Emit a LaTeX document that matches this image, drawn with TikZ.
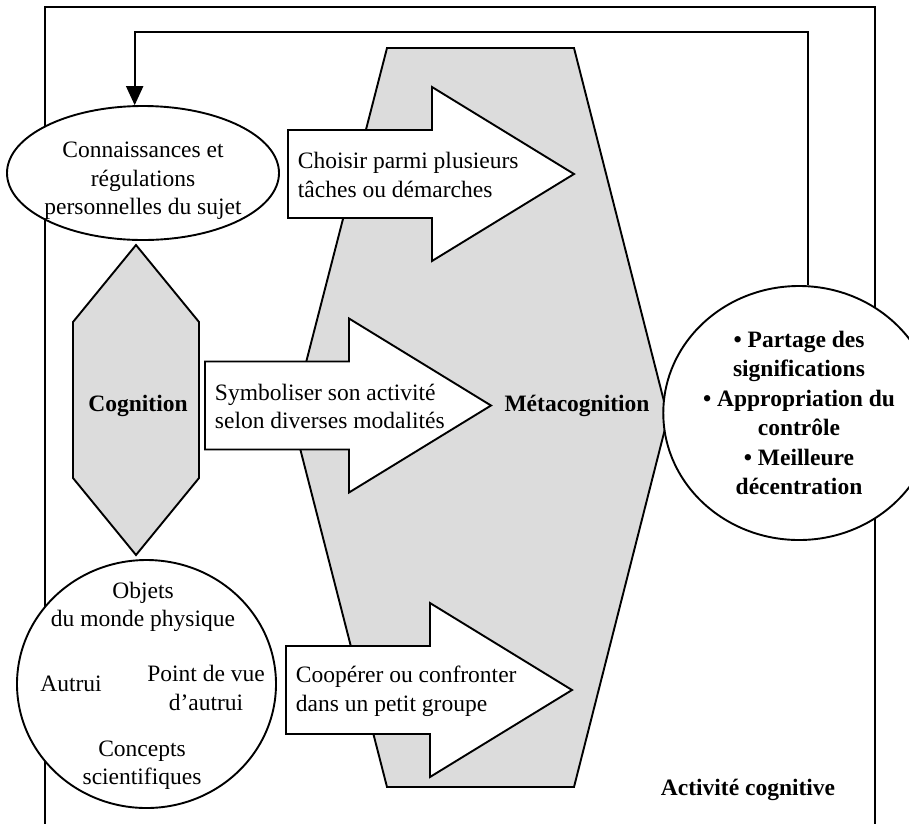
\documentclass[tikz,border=0pt]{standalone}
\usepackage{fontspec}
\setmainfont{Liberation Serif}
\usetikzlibrary{shapes.geometric,arrows.meta,calc,positioning}
\definecolor{metagrey}{RGB}{220,220,220}

\begin{document}
\begin{tikzpicture}[x=1pt,y=-1pt,>={Triangle[length=19pt,width=17pt]},
  line width=1.9pt,
  every node/.style={font=\fontsize{23.5}{28.5}\selectfont,inner sep=0pt},
  shaded/.style={draw,fill=metagrey},
  blockarrow/.style={draw,fill=white},
  bubble/.style={draw,fill=white,ellipse,inner sep=0pt},
  heading/.style={font=\fontsize{23.5}{29.5}\selectfont\bfseries,align=center}]
  \clip (0,0) rectangle (909,823);
  % cadre
  \draw (45,830) -- (45,7) -- (875,7) -- (875,830);
  \coordinate (fb) at (0,32);
  % metacognition
  \draw[shaded] (387,48) -- (574,48) -- (668,417) -- (574,787) -- (387,787) -- (292,417) -- cycle;
  \node[heading] (meta) at (577,406) {Métacognition};
  % fleches
  \foreach \ax/\ay/\atxt [count=\i] in {288/174/{Choisir parmi plusieurs\\tâches ou démarches},
      205/405.5/{Symboliser son activité\\selon diverses modalités},
      286/690/{Coopérer ou confronter\\dans un petit groupe}} {
    \draw[blockarrow] (\ax,\ay-44) -- (\ax+144,\ay-44) -- (\ax+144,\ay-87) -- (\ax+286,\ay)
      -- (\ax+144,\ay+87) -- (\ax+144,\ay+44) -- (\ax,\ay+44) -- cycle;
    \node[anchor=west,align=left] (task\i) at (\ax+9,\ay+1) {\atxt};
  }
  % cognition
  \draw[shaded] (136,245) -- (199,322) -- (199,478) -- (136,555) -- (73,478) -- (73,322) -- cycle;
  \node[heading] (cog) at (138,406) {Cognition};
  \node[bubble,minimum width=272pt,minimum height=134pt] (know) at (143,173) {};
  \node[align=center] (knowtxt) at (143,181) {Connaissances et\\régulations\\personnelles du sujet};
  % objets
  \node[bubble,minimum width=259pt,minimum height=248pt] (world) at (146.5,684) {};
  \node[align=center] (objets) at (143,607) {Objets\\du monde physique};
  \node (autrui) at (71,684) {Autrui};
  \node[align=center] (pdv) at (206,688) {Point de vue\\d’autrui};
  \node[align=center] (concepts) at (142,765) {Concepts\\scientifiques};
  % effets
  \node[bubble,minimum width=254pt,minimum height=254pt,heading] (res) at (799,413)
    {• Partage des\\significations\\• Appropriation du\\contrôle\\• Meilleure\\décentration};
  \node[heading] (act) at (748,790) {Activité cognitive};
  \draw[->] (res.86) -- (res.86 |- fb) -| (know.97);
\end{tikzpicture}
\end{document}
